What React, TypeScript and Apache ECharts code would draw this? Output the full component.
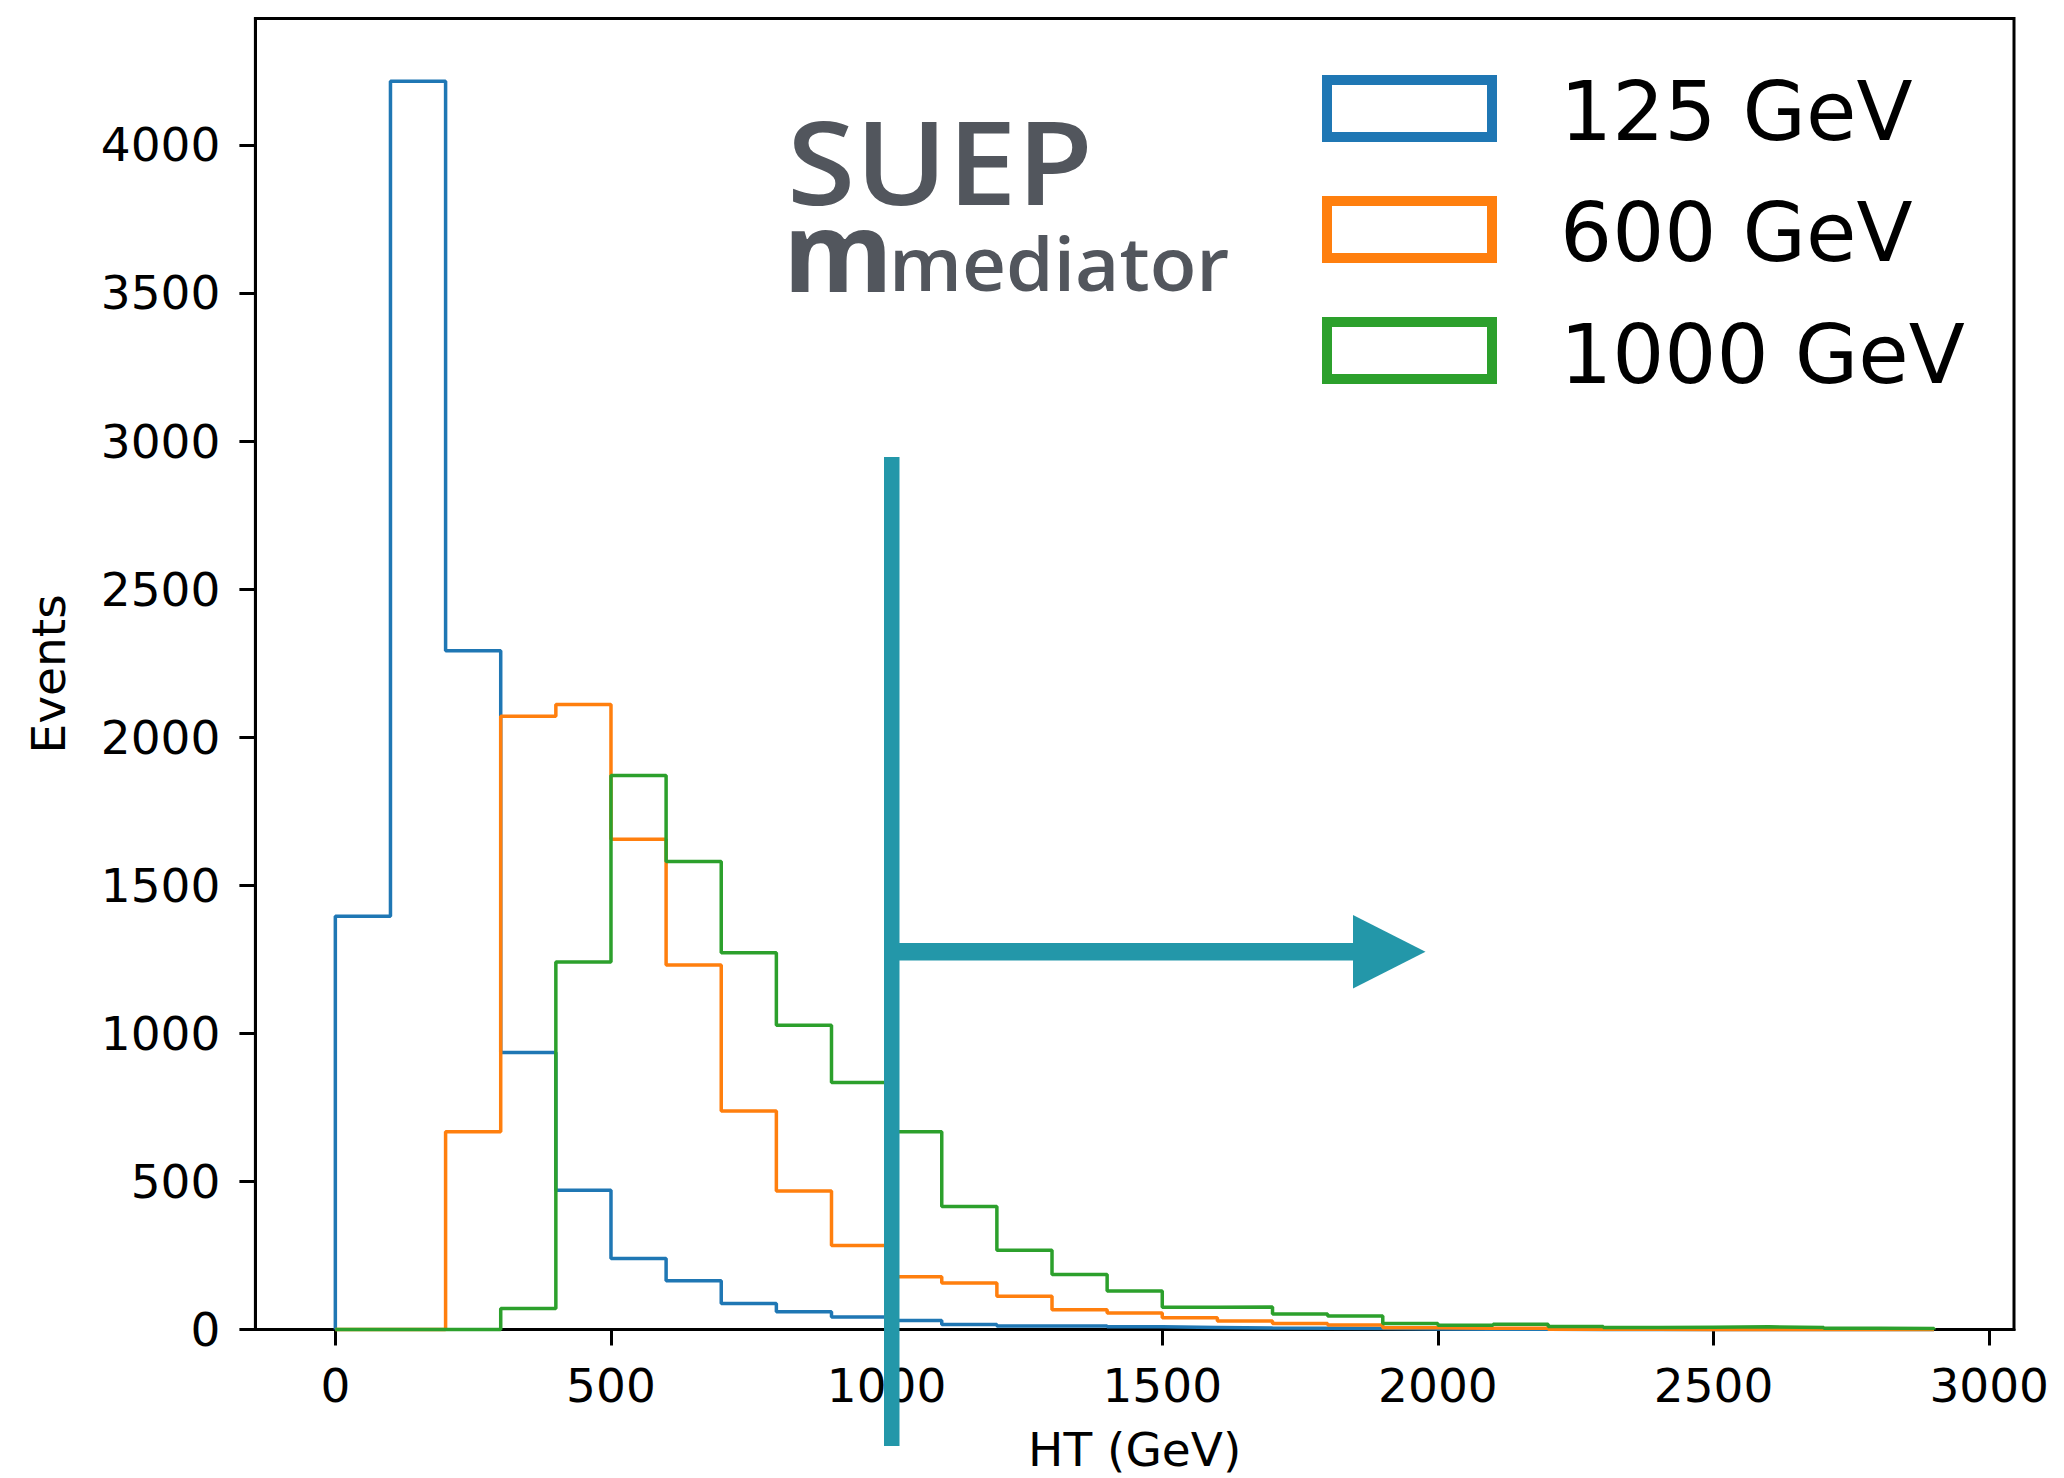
import React, { useEffect, useRef } from "react";
import * as echarts from "echarts";

// Histogram bin edges (GeV), 29 bins of 100 GeV
const binEdges = [
  0, 100, 200, 300, 400, 500, 600, 700, 800, 900, 1000, 1100, 1200, 1300, 1400,
  1500, 1600, 1700, 1800, 1900, 2000, 2100, 2200, 2300, 2400, 2500, 2600, 2700,
  2800, 2900,
];

const seriesNames = ["125 GeV", "600 GeV", "1000 GeV"];
const seriesColors = ["#1f77b4", "#ff7f0e", "#2ca02c"];

// Events per bin
const events125 = [
  1395, 4215, 2292, 935, 470, 240, 165, 88, 60, 42, 30, 17, 12, 12, 9, 7, 5, 4,
  3, 2, 1, 1, 0, 0, 0, 0, 0, 0, 0,
];
const events600 = [
  0, 0, 668, 2071, 2110, 1655, 1231, 738, 468, 284, 178, 157, 112, 67, 56, 40,
  29, 20, 15, 6, 4, 4, 1, 1, 0, 0, 0, 0, 0,
];
const events1000 = [
  0, 0, 0, 71, 1241, 1871, 1580, 1272, 1027, 834, 668, 415, 268, 186, 130, 75,
  76, 52, 46, 20, 14, 18, 10, 7, 8, 9, 7, 4, 3,
];

const xTicks = [0, 500, 1000, 1500, 2000, 2500, 3000];
const yTicks = [0, 500, 1000, 1500, 2000, 2500, 3000, 3500, 4000];

const xRange = [-145, 3045];
const yRange = [0, 4427];

function stepOutline(values: number[]): number[][] {
  const pts: number[][] = [[binEdges[0], 0]];
  for (let i = 0; i < values.length; i++) {
    pts.push([binEdges[i], values[i]]);
    pts.push([binEdges[i + 1], values[i]]);
  }
  pts.push([binEdges[values.length], 0]);
  return pts;
}

const TEAL = "#2397a9";
const GREY = "#52565d";
const AXIS_FONT = "DejaVu Sans";

export default function App() {
  const ref = useRef<HTMLDivElement>(null);

  useEffect(() => {
    if (!ref.current) return;
    const chart = echarts.init(ref.current, undefined, { renderer: "svg" });
    const allValues = [events125, events600, events1000];

    const legendGraphics: any[] = [];
    const boxTops = [80, 201, 322];
    const textYs = [111, 232, 354];
    seriesNames.forEach((name, i) => {
      legendGraphics.push({
        type: "rect",
        shape: { x: 1327, y: boxTops[i], width: 165, height: 57 },
        style: { fill: "#fff", stroke: seriesColors[i], lineWidth: 10 },
        z: 100,
      });
      legendGraphics.push({
        type: "text",
        x: 1560,
        y: textYs[i],
        style: {
          text: name,
          fill: "#000",
          font: `82px "${AXIS_FONT}"`,
          lineHeight: 70,
          textAlign: "left",
          textVerticalAlign: "middle",
        },
        z: 100,
      });
    });

    const plain = (v: number) => String(v);

    const option: any = {
      animation: false,
      backgroundColor: "#fff",
      grid: {
        left: 255.4,
        right: 50,
        top: 18.4,
        bottom: 148.5,
        show: true,
        borderColor: "#000",
        borderWidth: 3,
        backgroundColor: "transparent",
      },
      xAxis: {
        type: "value",
        min: xRange[0],
        max: xRange[1],
        splitLine: { show: false },
        axisLine: { show: true, onZero: false, lineStyle: { color: "#000", width: 3 } },
        axisTick: {
          show: true,
          length: 16,
          customValues: xTicks,
          lineStyle: { color: "#000", width: 3 },
        },
        axisLabel: {
          customValues: xTicks,
          formatter: plain,
          margin: 32,
          fontSize: 47,
          fontFamily: AXIS_FONT,
          color: "#000",
        },
        name: "HT (GeV)",
        nameLocation: "middle",
        nameGap: 96,
        nameTextStyle: { fontSize: 47, fontFamily: AXIS_FONT, color: "#000" },
      },
      yAxis: {
        type: "value",
        min: yRange[0],
        max: yRange[1],
        splitLine: { show: false },
        axisLine: { show: true, onZero: false, lineStyle: { color: "#000", width: 3 } },
        axisTick: {
          show: true,
          length: 16,
          customValues: yTicks,
          lineStyle: { color: "#000", width: 3 },
        },
        axisLabel: {
          customValues: yTicks,
          formatter: plain,
          margin: 35,
          fontSize: 47,
          fontFamily: AXIS_FONT,
          color: "#000",
        },
        name: "Events",
        nameLocation: "middle",
        nameGap: 183,
        nameTextStyle: { fontSize: 47, fontFamily: AXIS_FONT, color: "#000" },
      },
      series: seriesNames.map((name, i) => ({
        name,
        type: "line",
        data: stepOutline(allValues[i]),
        showSymbol: false,
        symbol: "none",
        clip: false,
        lineStyle: { color: seriesColors[i], width: 3.5 },
        itemStyle: { color: seriesColors[i] },
        z: 2 + i,
      })),
      graphic: [
        // SUEP label
        {
          type: "text",
          x: 787,
          y: 160,
          scaleX: 1.07,
          style: {
            text: "SUEP",
            fill: GREY,
            font: '600 116px "Open Sans"',
            lineHeight: 86,
            textAlign: "left",
            textVerticalAlign: "middle",
          },
          z: 100,
        },
        {
          type: "text",
          x: 783,
          y: 248,
          style: {
            text: "m",
            fill: GREY,
            font: '700 112px "Open Sans"',
            lineHeight: 64,
            textAlign: "left",
            textVerticalAlign: "middle",
          },
          z: 100,
        },
        {
          type: "text",
          x: 889,
          y: 262,
          scaleX: 1.02,
          style: {
            text: "mediator",
            fill: GREY,
            font: '600 75px "Open Sans"',
            lineHeight: 54,
            textAlign: "left",
            textVerticalAlign: "middle",
          },
          z: 100,
        },
        // Arrow annotation
        {
          type: "rect",
          shape: { x: 884, y: 457, width: 15.5, height: 989 },
          style: { fill: TEAL },
          z: 110,
        },
        {
          type: "rect",
          shape: { x: 899, y: 943, width: 455, height: 17.5 },
          style: { fill: TEAL },
          z: 110,
        },
        {
          type: "polygon",
          shape: {
            points: [
              [1353, 915],
              [1425.5, 951.8],
              [1353, 988.5],
            ],
          },
          style: { fill: TEAL },
          z: 110,
        },
        ...legendGraphics,
      ],
    };

    chart.setOption(option);
    return () => chart.dispose();
  }, []);

  return (
    <div
      ref={ref}
      style={{ position: "fixed", left: 0, top: 0, width: 2064, height: 1478 }}
    />
  );
}
